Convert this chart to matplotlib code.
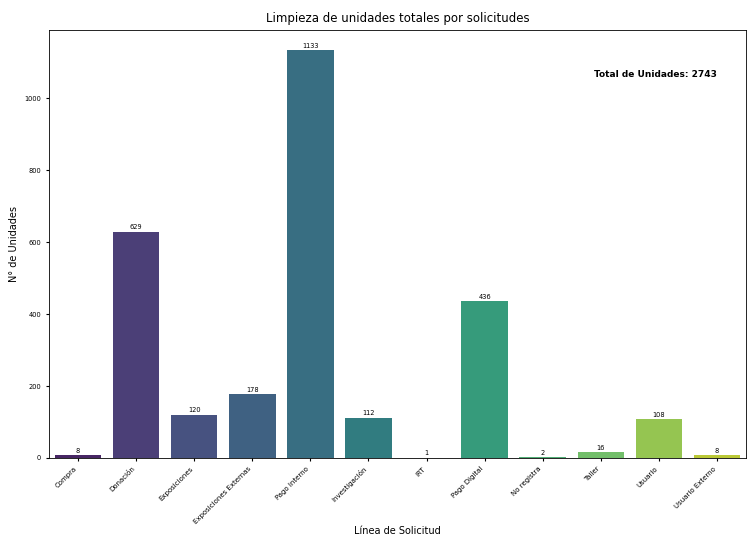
import numpy as np
import matplotlib
matplotlib.use("Agg")
from matplotlib import pyplot as plt
import seaborn as sns

# Data
categorias = ["Compra", "Donación", "Exposiciones", "Exposiciones Externas",
              "Pago Interno", "Investigación", "IRT", "Pago Digital",
              "No registra", "Taller", "Usuario", "Usuario Externo"]
unidades = [8, 629, 120, 178, 1133, 112, 1, 436, 2, 16, 108, 8]
total_unidades = 2743

# seaborn barplot style colours (viridis, saturation 0.75)
colores = sns.color_palette("viridis", len(categorias), desat=0.75)

fig = plt.figure(figsize=(7.48, 5.37), dpi=100)
ax = fig.add_axes([49 / 748, 1 - 458 / 537, 697 / 748, 428 / 537])

x = np.arange(len(categorias))
bars = ax.bar(x, unidades, width=0.8, color=colores)
ax.set_xlim(-0.5, len(categorias) - 0.5)
ax.set_ylim(0, max(unidades) * 1.05)

for b, v in zip(bars, unidades):
    ax.annotate(f'{v}', xy=(b.get_x() + b.get_width() / 2, b.get_height()),
                xytext=(0, 1), textcoords="offset points",
                ha='center', va='bottom', fontsize=4.8)

ax.set_xticks(x)
ax.set_xticklabels(categorias, rotation=45, ha='right', fontsize=5)
ax.tick_params(axis='y', labelsize=4.8, length=2)
ax.tick_params(axis='x', length=2)
ax.set_title("Limpieza de unidades totales por solicitudes", fontsize=8.5)
ax.set_ylabel("N° de Unidades", fontsize=7)
ax.set_xlabel("Línea de Solicitud", fontsize=7)
ax.xaxis.set_label_coords(0.5, -0.158)

for s in ax.spines.values():
    s.set_linewidth(0.6)

ax.text(0.958, 0.895, f'Total de Unidades: {total_unidades}', transform=ax.transAxes,
        ha='right', va='center', fontsize=6.5, fontweight='bold')

fig.savefig("out.png", dpi=100)
